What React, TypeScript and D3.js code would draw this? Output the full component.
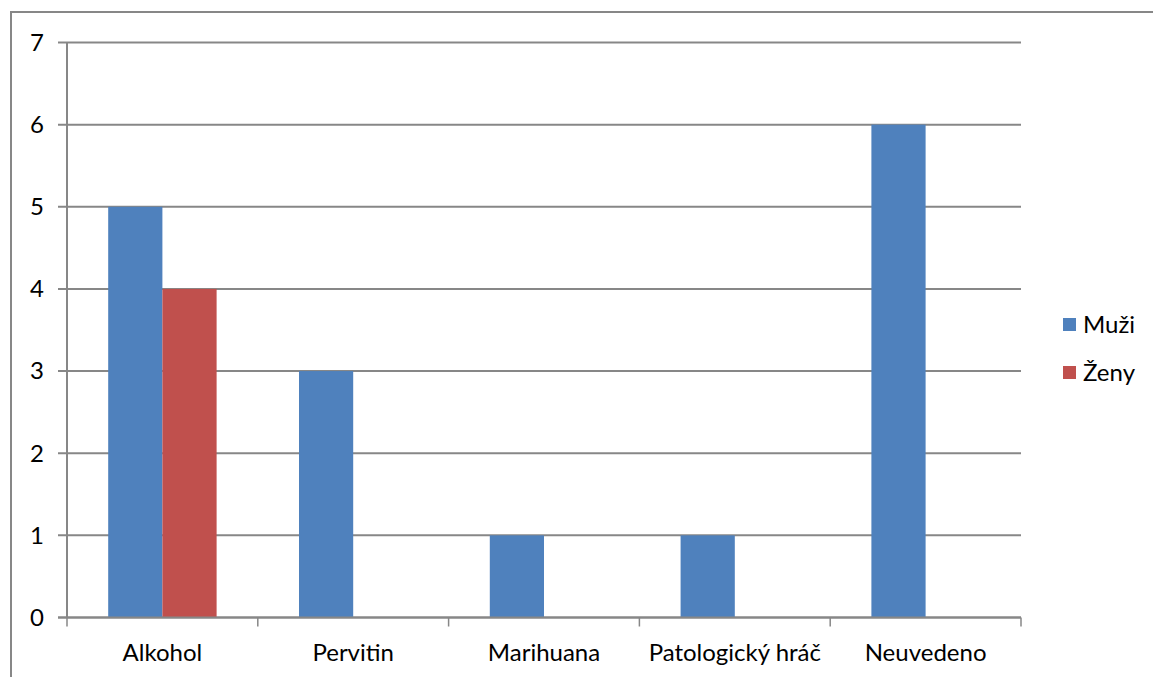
import React, { useEffect, useRef } from 'react';
import * as d3 from 'd3';

const categories = ["Alkohol", "Pervitin", "Marihuana", "Patologický hráč", "Neuvedeno"];
const seriesNames = ["Muži", "Ženy"];
const muzi = [5, 3, 1, 1, 6];
const zeny = [4, 0, 0, 0, 0];
const yTicks = [0, 1, 2, 3, 4, 5, 6, 7];
const colors = ["#4f81bd", "#c0504d"];

const App = () => {
    const ref = useRef<SVGSVGElement>(null);

    useEffect(() => {
        const W = 1153, H = 677;
        const margin = { top: 42.5, right: 132, bottom: 59.5, left: 67 };
        const width = W - margin.left - margin.right;
        const height = H - margin.top - margin.bottom;
        const font = "Lato, 'Open Sans', sans-serif";
        const fs = 24;
        const grey = "#878787";

        const root = d3.select(ref.current);
        root.selectAll("*").remove();

        // outer frame (only left and top edges are visible)
        root.append("line").attr("x1", 11).attr("x2", 11).attr("y1", 11).attr("y2", H)
            .attr("stroke", grey).attr("stroke-width", 2);
        root.append("line").attr("x1", 10).attr("x2", W).attr("y1", 12).attr("y2", 12)
            .attr("stroke", grey).attr("stroke-width", 2);

        const svg = root.append("g").attr("transform", `translate(${margin.left},${margin.top})`);

        const x0 = d3.scaleBand().domain(categories).range([0, width]).padding(0);
        const x1 = d3.scaleBand().domain(seriesNames).range([0, x0.bandwidth()])
            .paddingInner(0).paddingOuter(0.76);
        const y = d3.scaleLinear().domain([0, 7]).range([height, 0]);

        // gridlines + y ticks
        svg.append("g").selectAll("line").data(yTicks).enter().append("line")
            .attr("x1", -9).attr("x2", width)
            .attr("y1", d => y(d)).attr("y2", d => y(d))
            .attr("stroke", grey).attr("stroke-width", 2);
        svg.append("g").selectAll("text").data(yTicks).enter().append("text")
            .attr("x", -23).attr("y", d => y(d)).attr("dy", "0.35em")
            .attr("text-anchor", "end")
            .attr("font-family", font).attr("font-size", fs).attr("fill", "#000")
            .text(d => d);

        // y axis line
        svg.append("line").attr("x1", 0).attr("x2", 0).attr("y1", 0).attr("y2", height)
            .attr("stroke", grey).attr("stroke-width", 2);

        // bars
        const rows = categories.map((c, i) => ({ c, values: [muzi[i], zeny[i]] }));
        const groups = svg.selectAll(".cat").data(rows).enter().append("g")
            .attr("transform", d => `translate(${x0(d.c)},0)`);
        groups.selectAll("rect")
            .data(d => d.values.map((v, j) => ({ s: seriesNames[j], v, j })))
            .enter().append("rect")
            .attr("x", d => x1(d.s)!)
            .attr("y", d => y(d.v))
            .attr("width", x1.bandwidth())
            .attr("height", d => height - y(d.v))
            .attr("fill", d => colors[d.j]);

        // x axis
        svg.append("line").attr("x1", -9).attr("x2", width).attr("y1", height).attr("y2", height)
            .attr("stroke", grey).attr("stroke-width", 2);
        const xTickPos = [0, ...categories.map(c => x0(c)! + x0.bandwidth())];
        svg.append("g").selectAll("line").data(xTickPos).enter().append("line")
            .attr("x1", d => d).attr("x2", d => d)
            .attr("y1", height).attr("y2", height + 9)
            .attr("stroke", grey).attr("stroke-width", 1.5);
        svg.append("g").selectAll("text").data(categories).enter().append("text")
            .attr("x", d => x0(d)! + x0.bandwidth() / 2)
            .attr("y", height + 43)
            .attr("text-anchor", "middle")
            .attr("font-family", font).attr("font-size", fs).attr("fill", "#000")
            .text(d => d);

        // legend
        const legend = root.append("g").attr("transform", "translate(1063,318)");
        seriesNames.forEach((s, i) => {
            const g = legend.append("g").attr("transform", `translate(0,${i * 48})`);
            g.append("rect").attr("width", 13).attr("height", 13).attr("fill", colors[i]);
            g.append("text").attr("x", 20).attr("y", 7).attr("dy", "0.35em")
                .attr("font-family", font).attr("font-size", fs).attr("fill", "#000")
                .text(s);
        });
    }, []);

    return (
        <svg ref={ref} width={1153} height={677}
            style={{ position: "absolute", left: 0, top: 0, background: "#fff" }}></svg>
    );
};

export default App;
